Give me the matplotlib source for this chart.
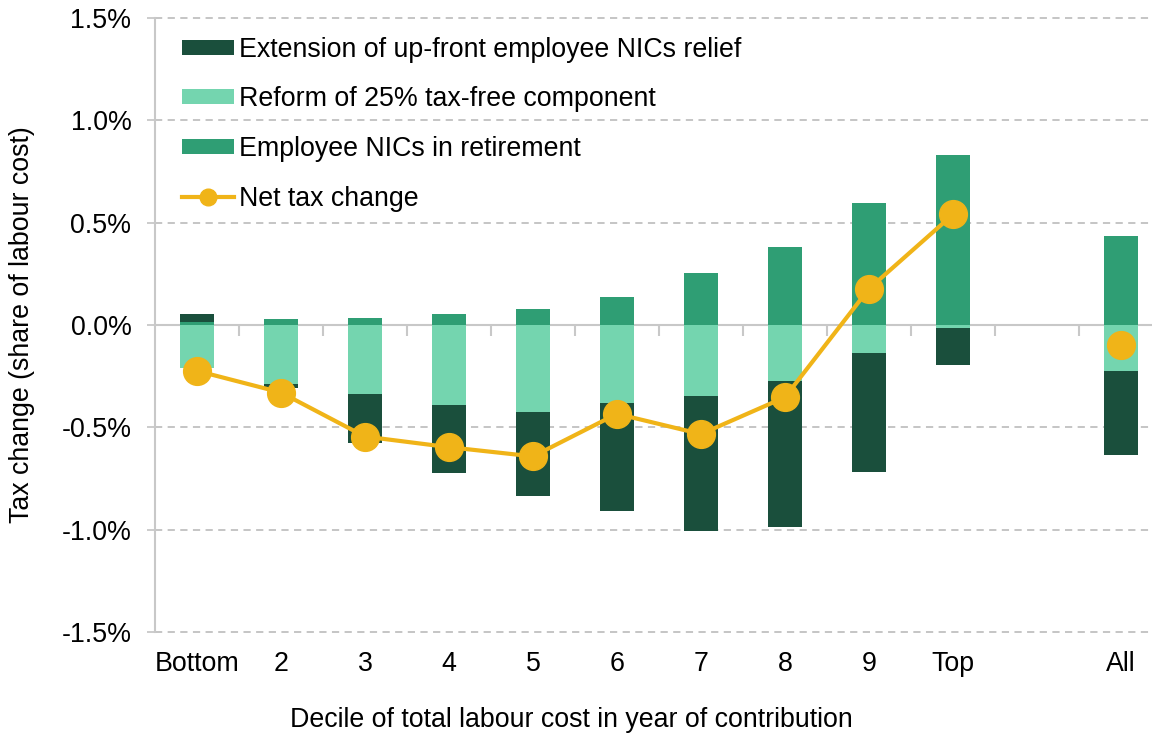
import numpy as np
import matplotlib
matplotlib.use("Agg")
import matplotlib.pyplot as plt
from matplotlib.ticker import FuncFormatter, FixedLocator

plt.rcParams["font.family"] = ["Liberation Sans", "DejaVu Sans"]

# --- Data (% of labour cost) ---
labels = ["Bottom", "2", "3", "4", "5", "6", "7", "8", "9", "Top", "All"]
positions = [0, 1, 2, 3, 4, 5, 6, 7, 8, 9, 11]

extension = [0.036, -0.02, -0.24, -0.33, -0.41, -0.53, -0.66, -0.71, -0.58, -0.18, -0.41]
reform = [-0.21, -0.29, -0.338, -0.392, -0.424, -0.38, -0.346, -0.275, -0.137, -0.013, -0.223]
retirement = [0.016, 0.027, 0.033, 0.052, 0.08, 0.137, 0.254, 0.38, 0.598, 0.83, 0.434]
net = [-0.224, -0.33, -0.545, -0.597, -0.642, -0.434, -0.533, -0.353, 0.177, 0.54, -0.098]

c_ext = "#1a4f3c"
c_ref = "#74d5af"
c_ret = "#2f9e74"
c_net = "#f0b418"
axis_col = "#c8c8c8"
fs = 19.3

fig = plt.figure(figsize=(11.52, 7.35), dpi=100)
ax = fig.add_axes([155 / 1152, 103 / 735, 1 - 155 / 1152, 614 / 735])

# stack: closest to zero first; positives up, negatives down
series = {
    "ret": (retirement, c_ret, "Employee NICs in retirement"),
    "ref": (reform, c_ref, "Reform of 25% tax-free component"),
    "ext": (extension, c_ext, "Extension of up-front employee NICs relief"),
}
pos_base = np.zeros(len(positions))
neg_base = np.zeros(len(positions))
bars = {}
for key in ["ret", "ref", "ext"]:
    vals, col, name = series[key]
    vals = np.array(vals)
    base = np.where(vals >= 0, pos_base, neg_base)
    bars[key] = ax.bar(positions, vals, bottom=base, width=0.4, color=col, label=name, zorder=3)
    pos_base = pos_base + np.clip(vals, 0, None)
    neg_base = neg_base + np.clip(vals, None, 0)

# net line (All point not joined)
ln, = ax.plot(positions[:10], net[:10], color=c_net, lw=3, marker="o", ms=20,
              zorder=4, label="Net tax change")
ax.plot(positions[10], net[10], color=c_net, marker="o", ms=20, lw=0, zorder=4)

ax.set_xlim(-0.5, 11.37)
ax.set_ylim(-1.5, 1.5)

# --- axes styling ---
grid_col = "#c0c0c0"
for y in [-1.5, -1.0, -0.5, 0.5, 1.0, 1.5]:
    ax.axhline(y, color=grid_col, lw=1.3, ls=(0, (4, 3)), zorder=1, clip_on=False)

for s in ["top", "right", "bottom"]:
    ax.spines[s].set_visible(False)
ax.spines["left"].set_color(axis_col)
ax.spines["left"].set_linewidth(1.5)

ax.yaxis.set_major_locator(FixedLocator([-1.5, -1.0, -0.5, 0.0, 0.5, 1.0, 1.5]))
ax.yaxis.set_major_formatter(FuncFormatter(lambda v, p: f"{v:.1f}%"))
ax.tick_params(axis="y", length=6, color=axis_col, width=1.3, labelsize=fs, pad=11)

ax.set_xticks(positions)
ax.set_xticklabels(labels)
ax.tick_params(axis="x", length=0, labelsize=fs, pad=14)

# zero line with category boundary ticks
ax.axhline(0, color=axis_col, lw=1.5, zorder=2)
sec = ax.secondary_xaxis(0.5)
for s in sec.spines.values():
    s.set_visible(False)
sec.set_xticks([p + 0.5 for p in range(11)])
sec.set_xticklabels([])
sec.tick_params(axis="x", length=8, color=axis_col, width=1.5, direction="in")

fig.text(22 / 1152, 1 - 325 / 735, "Tax change (share of labour cost)", rotation=90,
         ha="center", va="center", fontsize=fs)
fig.text(571 / 1152, 1 - 720 / 735, "Decile of total labour cost in year of contribution",
         ha="center", va="center", fontsize=fs)

handles = [bars["ext"], bars["ref"], bars["ret"], ln]
leg = ax.legend(handles=handles, loc="upper left", bbox_to_anchor=(0.008, 1.0), frameon=False,
                fontsize=fs, handlelength=1.94, handleheight=0.5, handletextpad=0.2,
                labelspacing=0.88, borderaxespad=0.3)
for lh in leg.legend_handles:
    if hasattr(lh, "set_markersize"):
        lh.set_markersize(12)

fig.savefig("out.png", dpi=100)
